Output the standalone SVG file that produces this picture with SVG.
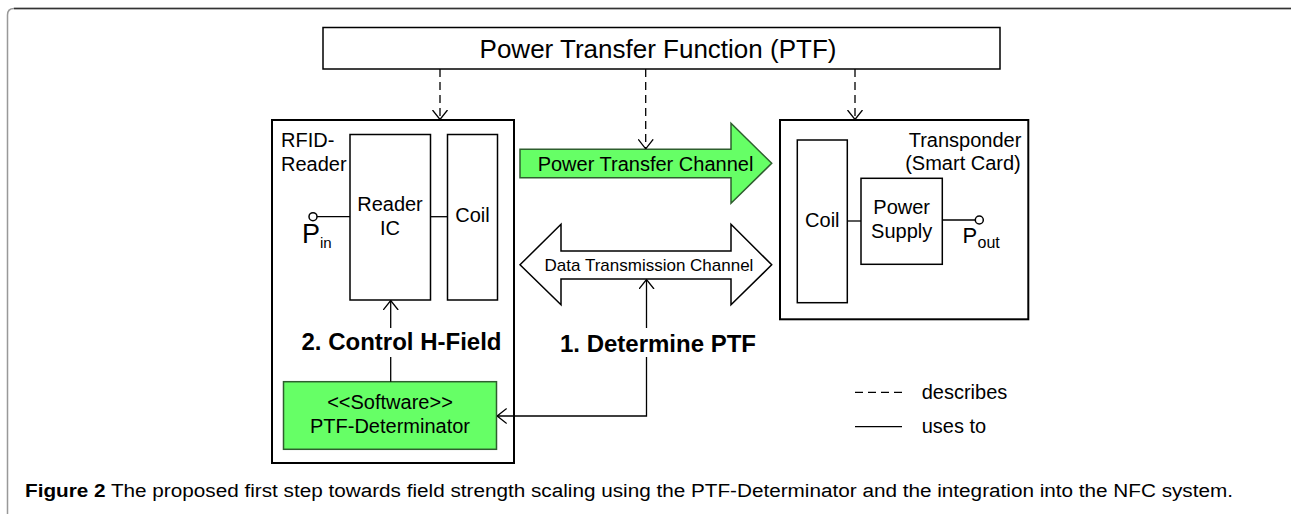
<svg xmlns="http://www.w3.org/2000/svg" width="1291" height="514" viewBox="0 0 1291 514">
<defs>
<style>
.t{font-family:"Liberation Sans",Arial,sans-serif;fill:#000}
.box{fill:#fff;stroke:#000;stroke-width:1.5}
.outer{fill:#fff;stroke:#000;stroke-width:2}
.green{fill:#66ff66;stroke:#2e5e2e;stroke-width:1.5}
.con{fill:none;stroke:#000;stroke-width:1.3}
.dash{fill:none;stroke:#000;stroke-width:1.3;stroke-dasharray:8 5}
</style>
<marker id="open" viewBox="0 0 10 16" refX="9.5" refY="8" markerWidth="10" markerHeight="16" orient="auto" markerUnits="userSpaceOnUse">
<path d="M0,0.5 L9.5,8 L0,15.5" fill="none" stroke="#000" stroke-width="1.3"/>
</marker>
</defs>
<rect width="1291" height="514" fill="#fff"/>
<g id="frame">
<path d="M1291,8.5 L14,8.5 Q7.5,8.5 7.5,15 L7.5,514" fill="none" stroke="#999" stroke-width="1.5"/>
<path d="M1291,8.5 L14,8.5" fill="none" stroke="#333" stroke-width="1.5"/>
</g>
<g id="ptf">
<rect class="box" x="323" y="27.5" width="677" height="41.5"/>
<text class="t" x="658" y="57.5" font-size="26" text-anchor="middle">Power Transfer Function (PTF)</text>
</g>
<g id="rfid-reader">
<rect class="outer" x="272" y="120" width="242" height="343"/>
<text class="t" x="281" y="147" font-size="20">RFID-</text>
<text class="t" x="281" y="170.5" font-size="20">Reader</text>
</g>
<g id="reader-ic">
<rect class="box" x="350" y="134.5" width="80.5" height="165.5"/>
<text class="t" x="390" y="210.5" font-size="20" text-anchor="middle">Reader</text>
<text class="t" x="390" y="235" font-size="20" text-anchor="middle">IC</text>
</g>
<g id="reader-coil">
<rect class="box" x="447.5" y="134.5" width="50" height="165.5"/>
<text class="t" x="472.5" y="222" font-size="20" text-anchor="middle">Coil</text>
</g>
<g id="pin">
<circle cx="313" cy="216.7" r="4" fill="#fff" stroke="#000" stroke-width="1.5"/>
<text class="t" x="302" y="243" font-size="27">P<tspan font-size="15" x="320" y="248">in</tspan></text>
</g>
<g id="ptf-determinator">
<rect class="green" x="283.5" y="381.7" width="213" height="67.6"/>
<text class="t" x="390" y="409.3" font-size="20" text-anchor="middle">&lt;&lt;Software&gt;&gt;</text>
<text class="t" x="390" y="433.3" font-size="20" text-anchor="middle">PTF-Determinator</text>
</g>
<g id="power-transfer-channel">
<polygon class="green" points="520,149.3 731,149.3 731,123.3 771.7,163.3 731,203.3 731,177.7 520,177.7"/>
<text class="t" x="645.5" y="170.5" font-size="20" text-anchor="middle">Power Transfer Channel</text>
</g>
<g id="data-transmission-channel">
<polygon points="520,264.8 561,224.3 561,251 731,251 731,224.3 771.7,264.8 731,304.8 731,279 561,279 561,304.8" fill="#fff" stroke="#000" stroke-width="1.5"/>
<text class="t" x="649" y="271" font-size="17" text-anchor="middle">Data Transmission Channel</text>
</g>
<g id="transponder">
<rect class="outer" x="780" y="120" width="248.3" height="199.3"/>
<text class="t" x="965" y="146.7" font-size="20" text-anchor="middle">Transponder</text>
<text class="t" x="963" y="170" font-size="20" text-anchor="middle">(Smart Card)</text>
</g>
<g id="transponder-coil">
<rect class="box" x="797.3" y="140" width="50" height="162.7"/>
<text class="t" x="822.3" y="226.7" font-size="20" text-anchor="middle">Coil</text>
</g>
<g id="power-supply">
<rect class="box" x="861" y="178.3" width="81.3" height="86"/>
<text class="t" x="901.7" y="214.3" font-size="20" text-anchor="middle">Power</text>
<text class="t" x="901.7" y="238" font-size="20" text-anchor="middle">Supply</text>
</g>
<g id="pout">
<circle cx="979.3" cy="220" r="4" fill="#fff" stroke="#000" stroke-width="1.5"/>
<text class="t" x="962.5" y="243.3" font-size="22">P<tspan font-size="16" x="977.5" y="247.5">out</tspan></text>
</g>
<g id="connectors">
<line class="dash" x1="440" y1="69" x2="440" y2="119.5" marker-end="url(#open)"/>
<line class="dash" x1="645.7" y1="69" x2="645.7" y2="148.8" marker-end="url(#open)"/>
<line class="dash" x1="855" y1="69" x2="855" y2="119.5" marker-end="url(#open)"/>
<line class="con" x1="317" y1="216.7" x2="350" y2="216.7"/>
<line class="con" x1="430.5" y1="216.7" x2="447.5" y2="216.7"/>
<line class="con" x1="847.3" y1="221" x2="861" y2="221"/>
<line class="con" x1="942.3" y1="220" x2="975.3" y2="220"/>
<line class="con" x1="390.7" y1="381.7" x2="390.7" y2="357"/>
<line class="con" x1="390.7" y1="328" x2="390.7" y2="300.5" marker-end="url(#open)"/>
<line class="con" x1="646.5" y1="328" x2="646.5" y2="279.5" marker-end="url(#open)"/>
<polyline class="con" points="646.5,357 646.5,416 497.2,416" marker-end="url(#open)"/>
</g>
<g id="labels">
<text class="t" x="401.5" y="349.5" font-size="24" font-weight="bold" text-anchor="middle">2. Control H-Field</text>
<text class="t" x="658" y="352" font-size="24" font-weight="bold" text-anchor="middle">1. Determine PTF</text>
</g>
<g id="legend">
<line class="dash" x1="855" y1="392.3" x2="902" y2="392.3" stroke-dasharray="9 7"/>
<text class="t" x="921.7" y="399" font-size="20">describes</text>
<line class="con" x1="855" y1="426.7" x2="902" y2="426.7"/>
<text class="t" x="921.7" y="433" font-size="20">uses to</text>
</g>
<g id="caption">
<text class="t" x="25" y="497" font-size="18" textLength="1208" lengthAdjust="spacingAndGlyphs"><tspan font-weight="bold">Figure 2</tspan> The proposed first step towards field strength scaling using the PTF-Determinator and the integration into the NFC system.</text>
</g>
</svg>
